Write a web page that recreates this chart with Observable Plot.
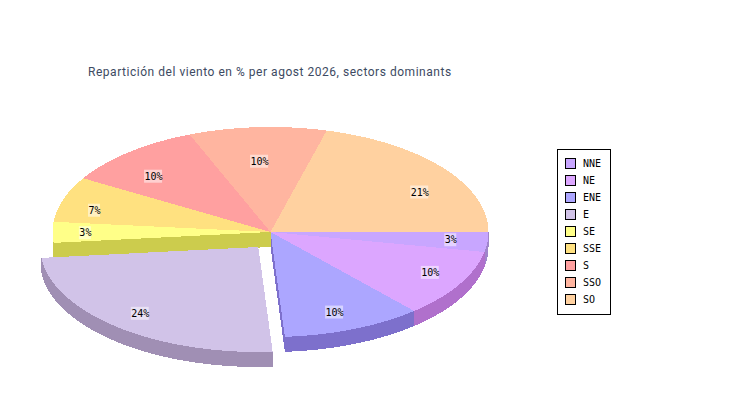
<!DOCTYPE html>
<html><head><meta charset="utf-8">
<script src="https://cdn.jsdelivr.net/npm/d3@7"></script>
<script src="https://cdn.jsdelivr.net/npm/@observablehq/plot@0.6"></script>
<style>
html,body{margin:0;padding:0;background:#fff;width:750px;height:400px;overflow:hidden}
#wrap{position:relative;width:750px;height:400px}
#title{position:absolute;left:88px;top:65px;font:12px "Roboto",sans-serif;letter-spacing:.53px;color:#3d4a62;white-space:nowrap}
#legend{position:absolute;left:557px;top:149px;width:52px;height:164px;border:1px solid #000;background:#fff;font:10px "DejaVu Sans Mono",monospace;color:#000}
#legend div{position:absolute;left:7px;display:flex;align-items:center;height:11px}
#legend i{display:block;box-sizing:border-box;width:11px;height:11px;border:1px solid #000;margin-right:7px}
svg{display:block}
</style></head>
<body><div id="wrap"><div id="title">Repartición del viento en % per agost 2026, sectors dominants</div><div id="legend"></div><div id="chart"></div></div>
<script>
const sectors = ["NNE","NE","ENE","E","SE","SSE","S","SSO","SO"];
const values  = [3.05,10.5,10.4,24.4,3.2,7.0,10.4,10.2,20.85];
const labels  = ["3%","10%","10%","24%","3%","7%","10%","10%","21%"];
const colors  = ["#c8a6ff","#dca6ff","#aca6ff","#d1c3e8","#ffff88","#ffe180","#ffa0a0","#ffb5a0","#ffd1a0"];
const walls   = ["#a085cc","#b070cc","#7d70cc","#a08fb4","#cccc4d","#ccb360","#cc8080","#cc9180","#e0a878"];
const explode = [0,0,0,1,0,0,0,0,0];
const labelNudge = [[-2,0],[1,-2],[-6,1],[0,1],[-2,1],[-2,1],[2,-1],[0,1],[4,4]];

// pie frame, in pixels of the picture
const W = 750, H = 400, CX = 270, CY = 231.5, RX = 218, RY = 105, DEPTH = 15;
const OFF = [-12.2, 15];

const total = d3.sum(values);
let acc = 0;
const slices = sectors.map((name, i) => {
  const start = acc / total * 360; acc += values[i];
  const end = acc / total * 360;
  const ox = explode[i] ? OFF[0] / RX : 0, oy = explode[i] ? OFF[1] / RY : 0;
  return {name, i, start, end, ox, oy, label: labels[i], mid: (start + end) / 2};
});
const dz = DEPTH / RY;
const rad = a => a * Math.PI / 180;
const pt = (s, a, dy = 0) => ({x: s.ox + Math.cos(rad(a)), y: s.oy + Math.sin(rad(a)) + dy});
const sweep = (a, b) => [...d3.range(a, b, 0.5), b];

const tops = slices.flatMap(s =>
  [{x: s.ox, y: s.oy}, ...sweep(s.start, s.end).map(a => pt(s, a))].map(p => ({...p, key: s.name, id: s.name})));

const sideRows = [];
function face(s, a, tag) {
  const c = pt(s, a), d = pt(s, a, dz);
  [{x: s.ox, y: s.oy}, c, d, {x: s.ox, y: s.oy + dz}].forEach(p =>
    sideRows.push({...p, key: s.name + " wall", id: s.name + tag}));
}
// inner faces that show: the last slice's edge, and the neighbours of an exploded slice
face(slices[slices.length - 1], 360, "z");
slices.forEach((s, i) => {
  if (explode[i + 1]) face(s, s.end, "e");
  if (explode[i - 1]) face(s, s.start, "s");
});
// outer walls of the front half
slices.forEach(s => {
  if (s.start >= 180) return;
  const arc = sweep(s.start, Math.min(s.end, 180));
  [...arc.map(a => pt(s, a)), ...arc.slice().reverse().map(a => pt(s, a, dz))].forEach(p =>
    sideRows.push({...p, key: s.name + " wall", id: s.name + "o"}));
});

const lab = slices.map((s, i) => {
  const c = Math.cos(rad(s.mid)), n = Math.sin(rad(s.mid));
  const x = s.ox + 0.84 * c + labelNudge[i][0] / RX;
  const y = s.oy + (n > 0 ? 0.82 : 0.68) * n + labelNudge[i][1] / RY;
  return {x, y, label: s.label,
    x1: x - 0.5 * (s.label.length * 6) / RX, x2: x + 0.5 * (s.label.length * 6) / RX,
    y1: y - 6.5 / RY, y2: y + 6.5 / RY};
});

const chart = Plot.plot({
  width: W, height: H, margin: 0,
  x: {domain: [-CX / RX, (W - CX) / RX], range: [0, W], axis: null},
  y: {domain: [-CY / RY, (H - CY) / RY], range: [0, H], axis: null},
  color: {type: "ordinal", domain: [...sectors, ...sectors.map(s => s + " wall")], range: [...colors, ...walls]},
  marks: [
    Plot.line(sideRows, {x: "x", y: "y", z: "id", fill: "key", stroke: null, shapeRendering: "crispEdges"}),
    Plot.line(tops, {x: "x", y: "y", z: "id", fill: "key", stroke: null, shapeRendering: "crispEdges"}),
    Plot.rect(lab, {x1: "x1", x2: "x2", y1: "y1", y2: "y2", fill: "white", fillOpacity: 0.5, inset: 0}),
    Plot.text(lab, {x: "x", y: "y", text: "label", fill: "black", fontSize: 10, fontFamily: "DejaVu Sans Mono"})
  ]
});
document.getElementById("chart").append(chart);

const legend = document.getElementById("legend");
sectors.forEach((name, i) => {
  const row = document.createElement("div");
  row.style.top = (8 + i * 17) + "px";
  row.innerHTML = `<i style="background:${colors[i]}"></i>${name}`;
  legend.append(row);
});
</script></body></html>
